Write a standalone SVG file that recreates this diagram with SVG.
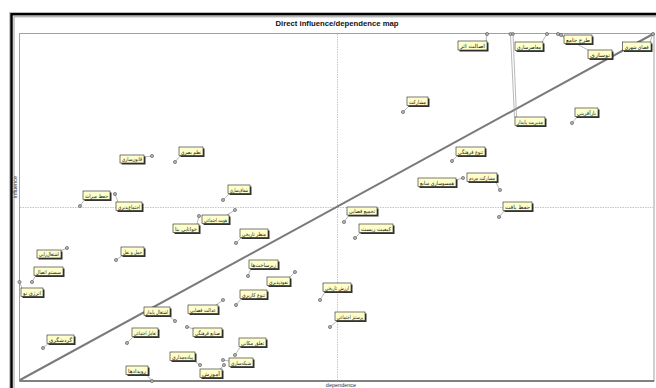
<svg xmlns="http://www.w3.org/2000/svg" width="656" height="388" viewBox="0 0 656 388">
<style>
.frame{fill:none;stroke:#000;stroke-width:2.5}
.outer{fill:none;stroke:#c8c8c8;stroke-width:1}
.inner{fill:none;stroke:#9a9a9a;stroke-width:1}
.plot{fill:none;stroke:#a0a0a0;stroke-width:1}
.axisb{stroke:#333;stroke-width:1.2}
.dash{stroke:#b8b8b8;stroke-width:0.8;stroke-dasharray:1.5,1}
.diag{stroke:#7a7a7a;stroke-width:2}
.lead{stroke:#9a9a9a;stroke-width:0.7;fill:none}
.pt{fill:#b0b0b0;stroke:#555;stroke-width:0.6}
.sh{fill:#333}
.box{fill:#ffffcc;stroke:#222;stroke-width:0.6}
.lbl{font-family:"DejaVu Sans","Noto Sans",sans-serif;font-size:5.5px;fill:#1a1a1a;text-anchor:middle}
.title{font-family:"Liberation Sans",Arial,sans-serif;font-size:8px;font-weight:bold;fill:#111;text-anchor:middle}
.ax{font-family:"Liberation Sans",Arial,sans-serif;font-size:5.5px;fill:#333;text-anchor:middle}
</style>
<rect x="0" y="0" width="656" height="388" fill="#fff"/>
<rect class="outer" x="9.5" y="12.5" width="660" height="390"/>
<rect class="frame" x="11.5" y="14.2" width="660" height="390"/>
<rect class="inner" x="14" y="16.8" width="660" height="390"/>
<text class="title" x="337" y="26" textLength="123" lengthAdjust="spacingAndGlyphs">Direct influence/dependence map</text>
<rect class="plot" x="19.5" y="33.5" width="634.5" height="347.5"/>
<line class="axisb" x1="19.5" y1="381" x2="654" y2="381"/>
<text class="ax" transform="translate(16.5,187) rotate(-90)">influence</text>
<text class="ax" x="341" y="387">dependence</text>
<line class="dash" x1="337.5" y1="34" x2="337.5" y2="380.5"/>
<line class="dash" x1="20" y1="207.5" x2="653.5" y2="207.5"/>
<line class="diag" x1="20" y1="380" x2="654" y2="33.5"/>
<g id="connectors">
<line class="lead" x1="487" y1="34" x2="486" y2="41"/>
<line class="lead" x1="547" y1="34" x2="542" y2="42"/>
<line class="lead" x1="558" y1="34" x2="564" y2="37"/>
<line class="lead" x1="560" y1="35" x2="590" y2="51"/>
<line class="lead" x1="653" y1="34" x2="650" y2="42"/>
<line class="lead" x1="510.5" y1="34" x2="514.5" y2="117.5"/>
<line class="lead" x1="513" y1="34" x2="516.5" y2="117"/>
<line class="lead" x1="403" y1="112" x2="409" y2="106"/>
<line class="lead" x1="572" y1="123" x2="577" y2="117"/>
<line class="lead" x1="452" y1="161" x2="458" y2="155"/>
<line class="lead" x1="500" y1="190" x2="495" y2="181"/>
<line class="lead" x1="463" y1="178" x2="456" y2="180"/>
<line class="lead" x1="499" y1="217" x2="505" y2="210"/>
<line class="lead" x1="344" y1="222" x2="349" y2="215"/>
<line class="lead" x1="355" y1="238" x2="361" y2="232"/>
<line class="lead" x1="152" y1="156" x2="144" y2="157"/>
<line class="lead" x1="175" y1="162" x2="181" y2="155"/>
<line class="lead" x1="80" y1="206" x2="85" y2="199"/>
<line class="lead" x1="115" y1="194" x2="118" y2="202"/>
<line class="lead" x1="223" y1="200" x2="230" y2="193"/>
<line class="lead" x1="235" y1="210" x2="227" y2="215"/>
<line class="lead" x1="199" y1="216" x2="197" y2="224"/>
<line class="lead" x1="236" y1="243" x2="242" y2="237"/>
<line class="lead" x1="67" y1="248" x2="60" y2="251"/>
<line class="lead" x1="116" y1="260" x2="123" y2="255"/>
<line class="lead" x1="32" y1="282" x2="36" y2="275"/>
<line class="lead" x1="19.5" y1="282" x2="22" y2="288"/>
<line class="lead" x1="248" y1="276" x2="251" y2="268"/>
<line class="lead" x1="295" y1="272" x2="289" y2="278"/>
<line class="lead" x1="236" y1="305" x2="242" y2="298"/>
<line class="lead" x1="223" y1="300" x2="216" y2="305"/>
<line class="lead" x1="175" y1="321" x2="168" y2="315"/>
<line class="lead" x1="187" y1="327" x2="194" y2="329"/>
<line class="lead" x1="127" y1="343" x2="134" y2="336"/>
<line class="lead" x1="43" y1="348" x2="49" y2="343"/>
<line class="lead" x1="235" y1="355" x2="241" y2="346"/>
<line class="lead" x1="200" y1="365" x2="193" y2="360"/>
<line class="lead" x1="223" y1="360" x2="229" y2="361"/>
<line class="lead" x1="224" y1="365" x2="220" y2="369"/>
<line class="lead" x1="152" y1="381" x2="147" y2="375"/>
<line class="lead" x1="320" y1="300" x2="325" y2="292"/>
<line class="lead" x1="330" y1="327" x2="337" y2="321"/>
</g>
<g id="points">
<circle class="pt" cx="487" cy="34" r="1.6"/><circle class="pt" cx="547" cy="34" r="1.6"/><circle class="pt" cx="558" cy="34" r="1.6"/><circle class="pt" cx="561" cy="35" r="1.6"/><circle class="pt" cx="653" cy="34" r="1.6"/><circle class="pt" cx="510.5" cy="34" r="1.6"/><circle class="pt" cx="513" cy="34" r="1.4"/>
<circle class="pt" cx="403" cy="112" r="1.6"/><circle class="pt" cx="572" cy="123" r="1.6"/><circle class="pt" cx="452" cy="161" r="1.6"/><circle class="pt" cx="500" cy="190" r="1.6"/><circle class="pt" cx="463" cy="178" r="1.6"/><circle class="pt" cx="499" cy="217" r="1.6"/><circle class="pt" cx="344" cy="222" r="1.6"/><circle class="pt" cx="355" cy="238" r="1.6"/>
<circle class="pt" cx="152" cy="156" r="1.6"/><circle class="pt" cx="175" cy="162" r="1.6"/><circle class="pt" cx="80" cy="206" r="1.6"/><circle class="pt" cx="115" cy="194" r="1.6"/><circle class="pt" cx="223" cy="200" r="1.6"/><circle class="pt" cx="235" cy="210" r="1.6"/><circle class="pt" cx="199" cy="216" r="1.6"/><circle class="pt" cx="236" cy="243" r="1.6"/>
<circle class="pt" cx="67" cy="248" r="1.6"/><circle class="pt" cx="116" cy="260" r="1.6"/><circle class="pt" cx="32" cy="282" r="1.6"/><circle class="pt" cx="19.5" cy="282" r="1.6"/><circle class="pt" cx="248" cy="276" r="1.6"/><circle class="pt" cx="295" cy="272" r="1.6"/><circle class="pt" cx="236" cy="305" r="1.6"/><circle class="pt" cx="223" cy="300" r="1.6"/>
<circle class="pt" cx="175" cy="321" r="1.6"/><circle class="pt" cx="187" cy="327" r="1.6"/><circle class="pt" cx="127" cy="343" r="1.6"/><circle class="pt" cx="43" cy="348" r="1.6"/><circle class="pt" cx="235" cy="355" r="1.6"/><circle class="pt" cx="200" cy="365" r="1.6"/><circle class="pt" cx="223" cy="360" r="1.6"/><circle class="pt" cx="224" cy="365" r="1.6"/><circle class="pt" cx="152" cy="381" r="1.6"/><circle class="pt" cx="320" cy="300" r="1.6"/><circle class="pt" cx="330" cy="327" r="1.6"/>
</g>
<g id="n1"><rect class="sh" x="459.5" y="42.5" width="29" height="9"/><rect class="box" x="458" y="41" width="29" height="9"/><text class="lbl" x="472.5" y="47.8" textLength="25" lengthAdjust="spacingAndGlyphs">اصالت اثر</text></g>
<g id="n2"><rect class="sh" x="516.5" y="43.5" width="28" height="8.5"/><rect class="box" x="515" y="42" width="28" height="8.5"/><text class="lbl" x="529" y="48.5" textLength="24" lengthAdjust="spacingAndGlyphs">معاصرسازی</text></g>
<g id="n3"><rect class="sh" x="565.5" y="36.5" width="28" height="8.5"/><rect class="box" x="564" y="35" width="28" height="8.5"/><text class="lbl" x="578" y="41.5" textLength="24" lengthAdjust="spacingAndGlyphs">طرح جامع</text></g>
<g id="n4"><rect class="sh" x="589.5" y="51.5" width="24" height="8.5"/><rect class="box" x="588" y="50" width="24" height="8.5"/><text class="lbl" x="600" y="56.5" textLength="20" lengthAdjust="spacingAndGlyphs">نوسازی</text></g>
<g id="n5"><rect class="sh" x="624" y="43.5" width="28.5" height="8.5"/><rect class="box" x="622.5" y="42" width="28.5" height="8.5"/><text class="lbl" x="636.7" y="48.5" textLength="24" lengthAdjust="spacingAndGlyphs">فضای شهری</text></g>
<g id="n6"><rect class="sh" x="408.5" y="98.5" width="21" height="8.5"/><rect class="box" x="407" y="97" width="21" height="8.5"/><text class="lbl" x="417.5" y="103.5" textLength="17" lengthAdjust="spacingAndGlyphs">مشارکت</text></g>
<g id="n7"><rect class="sh" x="516.5" y="118.5" width="30" height="8.5"/><rect class="box" x="515" y="117" width="30" height="8.5"/><text class="lbl" x="530" y="123.5" textLength="26" lengthAdjust="spacingAndGlyphs">مدیریت پایدار</text></g>
<g id="n8"><rect class="sh" x="576.5" y="109.5" width="23" height="8.5"/><rect class="box" x="575" y="108" width="23" height="8.5"/><text class="lbl" x="586.5" y="114.5" textLength="19" lengthAdjust="spacingAndGlyphs">بازآفرینی</text></g>
<g id="n9"><rect class="sh" x="457.5" y="148.5" width="29" height="8.5"/><rect class="box" x="456" y="147" width="29" height="8.5"/><text class="lbl" x="470.5" y="153.5" textLength="25" lengthAdjust="spacingAndGlyphs">تنوع فرهنگی</text></g>
<g id="n10"><rect class="sh" x="468.5" y="174.5" width="30" height="8.5"/><rect class="box" x="467" y="173" width="30" height="8.5"/><text class="lbl" x="482" y="179.5" textLength="26" lengthAdjust="spacingAndGlyphs">مشارکت مردم</text></g>
<g id="n11"><rect class="sh" x="419.5" y="179.5" width="38" height="8.5"/><rect class="box" x="418" y="178" width="38" height="8.5"/><text class="lbl" x="437" y="184.5" textLength="34" lengthAdjust="spacingAndGlyphs">همسوسازی منابع</text></g>
<g id="n12"><rect class="sh" x="504.5" y="203.5" width="29" height="8.5"/><rect class="box" x="503" y="202" width="29" height="8.5"/><text class="lbl" x="517.5" y="208.5" textLength="25" lengthAdjust="spacingAndGlyphs">حفظ بافت</text></g>
<g id="n13"><rect class="sh" x="348.5" y="208.5" width="30" height="8"/><rect class="box" x="347" y="207" width="30" height="8"/><text class="lbl" x="362" y="213.2" textLength="26" lengthAdjust="spacingAndGlyphs">تجمیع فضایی</text></g>
<g id="n14"><rect class="sh" x="360.5" y="225.5" width="34" height="8.5"/><rect class="box" x="359" y="224" width="34" height="8.5"/><text class="lbl" x="376" y="230.5" textLength="30" lengthAdjust="spacingAndGlyphs">کیفیت زیست</text></g>
<g id="n15"><rect class="sh" x="121.5" y="156.5" width="24" height="8"/><rect class="box" x="120" y="155" width="24" height="8"/><text class="lbl" x="132" y="161.2" textLength="20" lengthAdjust="spacingAndGlyphs">قانون‌سازی</text></g>
<g id="n16"><rect class="sh" x="180.5" y="148.5" width="24" height="8.5"/><rect class="box" x="179" y="147" width="24" height="8.5"/><text class="lbl" x="191" y="153.5" textLength="20" lengthAdjust="spacingAndGlyphs">نظم بصری</text></g>
<g id="n17"><rect class="sh" x="84.5" y="192.5" width="27" height="8.5"/><rect class="box" x="83" y="191" width="27" height="8.5"/><text class="lbl" x="96.5" y="197.5" textLength="23" lengthAdjust="spacingAndGlyphs">حفظ میراث</text></g>
<g id="n18"><rect class="sh" x="117.5" y="203.5" width="26" height="8.5"/><rect class="box" x="116" y="202" width="26" height="8.5"/><text class="lbl" x="129" y="208.5" textLength="22" lengthAdjust="spacingAndGlyphs">اجتماع‌پذیری</text></g>
<g id="n19"><rect class="sh" x="229.5" y="186.5" width="22" height="8.5"/><rect class="box" x="228" y="185" width="22" height="8.5"/><text class="lbl" x="239" y="191.5" textLength="18" lengthAdjust="spacingAndGlyphs">شفاف‌سازی</text></g>
<g id="n20"><rect class="sh" x="203.5" y="216.5" width="27" height="8.5"/><rect class="box" x="202" y="215" width="27" height="8.5"/><text class="lbl" x="215.5" y="221.5" textLength="23" lengthAdjust="spacingAndGlyphs">هویت اجتماعی</text></g>
<g id="n21"><rect class="sh" x="174.5" y="225.5" width="26" height="8.5"/><rect class="box" x="173" y="224" width="26" height="8.5"/><text class="lbl" x="186" y="230.5" textLength="22" lengthAdjust="spacingAndGlyphs">خوانایی بنا</text></g>
<g id="n22"><rect class="sh" x="241.5" y="230.5" width="28" height="8.5"/><rect class="box" x="240" y="229" width="28" height="8.5"/><text class="lbl" x="254" y="235.5" textLength="24" lengthAdjust="spacingAndGlyphs">منظر تاریخی</text></g>
<g id="n23"><rect class="sh" x="38.5" y="251.5" width="24" height="8"/><rect class="box" x="37" y="250" width="24" height="8"/><text class="lbl" x="49" y="256.2" textLength="20" lengthAdjust="spacingAndGlyphs">اشتغال‌زایی</text></g>
<g id="n24"><rect class="sh" x="122.5" y="248.5" width="23" height="8.5"/><rect class="box" x="121" y="247" width="23" height="8.5"/><text class="lbl" x="132.5" y="253.5" textLength="19" lengthAdjust="spacingAndGlyphs">حمل و نقل</text></g>
<g id="n25"><rect class="sh" x="35.5" y="268.5" width="29" height="8.5"/><rect class="box" x="34" y="267" width="29" height="8.5"/><text class="lbl" x="48.5" y="273.5" textLength="25" lengthAdjust="spacingAndGlyphs">سیستم اتصال</text></g>
<g id="n26"><rect class="sh" x="22.5" y="289.5" width="22" height="8.5"/><rect class="box" x="21" y="288" width="22" height="8.5"/><text class="lbl" x="32" y="294.5" textLength="18" lengthAdjust="spacingAndGlyphs">انرژی نو</text></g>
<g id="n27"><rect class="sh" x="250.5" y="261.5" width="29" height="8.5"/><rect class="box" x="249" y="260" width="29" height="8.5"/><text class="lbl" x="263.5" y="266.5" textLength="25" lengthAdjust="spacingAndGlyphs">زیرساخت‌ها</text></g>
<g id="n28"><rect class="sh" x="268.5" y="278.5" width="23" height="8.5"/><rect class="box" x="267" y="277" width="23" height="8.5"/><text class="lbl" x="278.5" y="283.5" textLength="19" lengthAdjust="spacingAndGlyphs">نفوذپذیری</text></g>
<g id="n29"><rect class="sh" x="241.5" y="291.5" width="27" height="8.5"/><rect class="box" x="240" y="290" width="27" height="8.5"/><text class="lbl" x="253.5" y="296.5" textLength="23" lengthAdjust="spacingAndGlyphs">تنوع کاربری</text></g>
<g id="n30"><rect class="sh" x="189.5" y="306.5" width="30" height="8.5"/><rect class="box" x="188" y="305" width="30" height="8.5"/><text class="lbl" x="203" y="311.5" textLength="26" lengthAdjust="spacingAndGlyphs">عدالت فضایی</text></g>
<g id="n31"><rect class="sh" x="145.5" y="308.5" width="26" height="8.5"/><rect class="box" x="144" y="307" width="26" height="8.5"/><text class="lbl" x="157" y="313.5" textLength="22" lengthAdjust="spacingAndGlyphs">اشتغال پایدار</text></g>
<g id="n32"><rect class="sh" x="194.5" y="329.5" width="29" height="8.5"/><rect class="box" x="193" y="328" width="29" height="8.5"/><text class="lbl" x="207.5" y="334.5" textLength="25" lengthAdjust="spacingAndGlyphs">صنایع فرهنگی</text></g>
<g id="n33"><rect class="sh" x="133.5" y="329.5" width="26" height="8.5"/><rect class="box" x="132" y="328" width="26" height="8.5"/><text class="lbl" x="145" y="334.5" textLength="22" lengthAdjust="spacingAndGlyphs">تعامل اجتماعی</text></g>
<g id="n34"><rect class="sh" x="48.5" y="336.5" width="27" height="8.5"/><rect class="box" x="47" y="335" width="27" height="8.5"/><text class="lbl" x="60.5" y="341.5" textLength="23" lengthAdjust="spacingAndGlyphs">گردشگری</text></g>
<g id="n35"><rect class="sh" x="240.5" y="339.5" width="27" height="8.5"/><rect class="box" x="239" y="338" width="27" height="8.5"/><text class="lbl" x="252.5" y="344.5" textLength="23" lengthAdjust="spacingAndGlyphs">تعلق مکانی</text></g>
<g id="n36"><rect class="sh" x="171.5" y="353.5" width="25" height="8.5"/><rect class="box" x="170" y="352" width="25" height="8.5"/><text class="lbl" x="182.5" y="358.5" textLength="21" lengthAdjust="spacingAndGlyphs">پیاده‌مداری</text></g>
<g id="n37"><rect class="sh" x="230.5" y="359.5" width="24" height="8.5"/><rect class="box" x="229" y="358" width="24" height="8.5"/><text class="lbl" x="241" y="364.5" textLength="20" lengthAdjust="spacingAndGlyphs">شبکه‌سازی</text></g>
<g id="n38"><rect class="sh" x="201.5" y="370.5" width="22" height="8.5"/><rect class="box" x="200" y="369" width="22" height="8.5"/><text class="lbl" x="211" y="375.5" textLength="18" lengthAdjust="spacingAndGlyphs">آموزش</text></g>
<g id="n39"><rect class="sh" x="127.5" y="367.5" width="22" height="8.5"/><rect class="box" x="126" y="366" width="22" height="8.5"/><text class="lbl" x="137" y="372.5" textLength="18" lengthAdjust="spacingAndGlyphs">رویدادها</text></g>
<g id="n40"><rect class="sh" x="324.5" y="284.5" width="28" height="8.5"/><rect class="box" x="323" y="283" width="28" height="8.5"/><text class="lbl" x="337" y="289.5" textLength="24" lengthAdjust="spacingAndGlyphs">ارزش تاریخی</text></g>
<g id="n41"><rect class="sh" x="336.5" y="313.5" width="30" height="8.5"/><rect class="box" x="335" y="312" width="30" height="8.5"/><text class="lbl" x="350" y="318.5" textLength="26" lengthAdjust="spacingAndGlyphs">پرستیژ اجتماعی</text></g>
</svg>
